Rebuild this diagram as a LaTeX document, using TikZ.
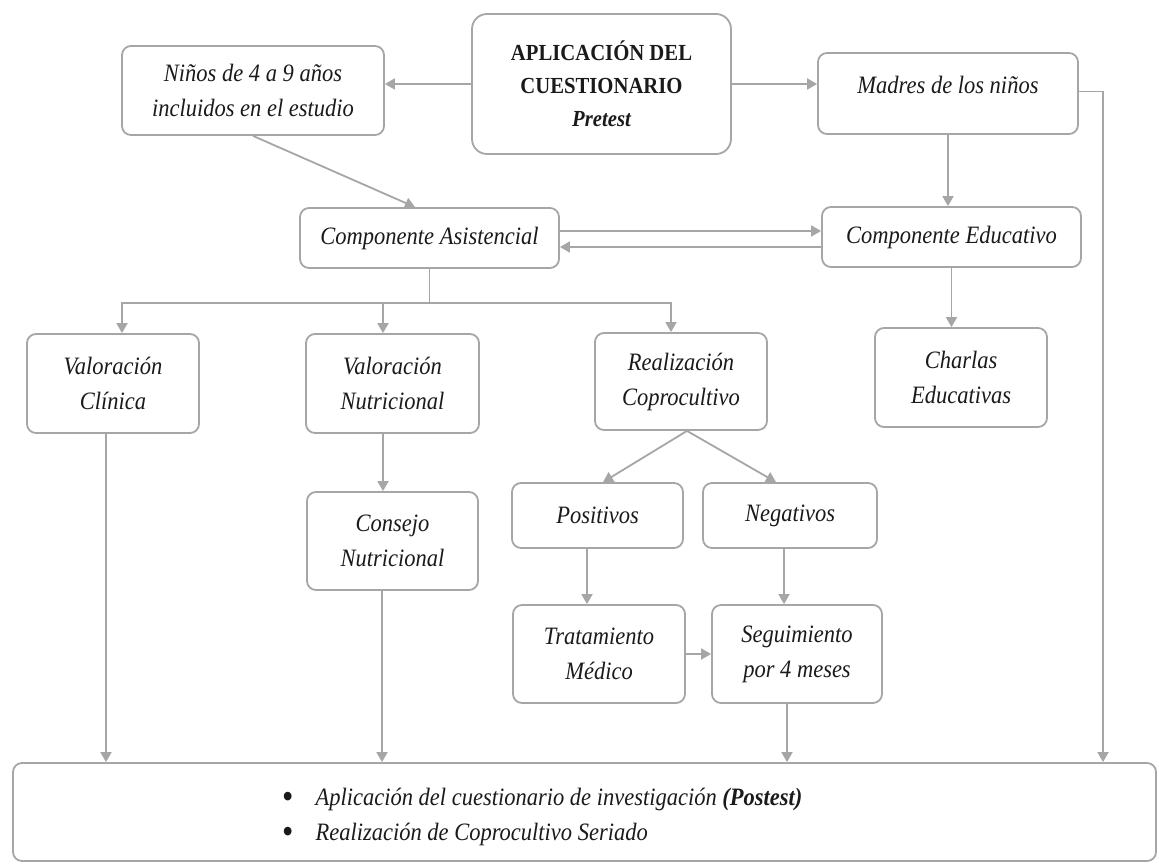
\documentclass[tikz,border=0pt]{standalone}
\usepackage{fontspec}
\setmainfont{Liberation Serif}[FakeStretch=0.9]
\usetikzlibrary{arrows.meta,calc}
\definecolor{lg}{HTML}{A6A6A6}
\definecolor{tx}{HTML}{1A1A1A}
\newcommand{\bigbul}{\smash{\raisebox{-3pt}{\upshape\fontsize{36}{30}\selectfont\textbullet}}}
\begin{document}
\begin{tikzpicture}[x=1pt,y=-1pt,
  box/.style={draw=lg, line width=1.8pt, rounded corners=9pt, align=center, inner sep=0pt, text=tx, font=\itshape\fontsize{25}{35}\selectfont},
  lbl/.style={align=center, inner sep=0pt, text=tx, font=\itshape\fontsize{25}{35}\selectfont},
  arr/.style={draw=lg, line width=1.8pt, -{Triangle[length=10pt,width=11pt]}},
  ln/.style={draw=lg, line width=1.8pt}]
\useasboundingbox (0,0) rectangle (1159,866);
% nodes
\node[box, rounded corners=15pt, minimum width=259pt, minimum height=140pt, font=\fontsize{23}{33}\selectfont\bfseries] (app) at (601.5,84) {APLICACIÓN DEL\\CUESTIONARIO\\\itshape Pretest};
\node[box, minimum width=262pt, minimum height=89pt] (ninos) at (253,90.5) {Niños de 4 a 9 años\\incluidos en el estudio};
\node[box, minimum width=260pt, minimum height=81pt] (madres) at (948,93.5) {};
\node[lbl] (madrest) at (948,85) {Madres de los niños};
\node[box, minimum width=259pt, minimum height=60pt] (ca) at (429.5,238) {Componente Asistencial};
\node[box, minimum width=259pt, minimum height=60pt] (ce) at (951.5,237) {Componente Educativo};
\node[box, minimum width=172pt, minimum height=99pt] (vc) at (113,383.5) {Valoración\\Clínica};
\node[box, minimum width=173pt, minimum height=99pt] (vn) at (392.5,383.5) {Valoración\\Nutricional};
\node[box, minimum width=172pt, minimum height=97pt] (rc) at (681,381.5) {Realización\\Coprocultivo};
\node[box, minimum width=172pt, minimum height=99pt] (ch) at (961,377.5) {Charlas\\Educativas};
\node[box, minimum width=171pt, minimum height=98pt] (cn) at (392.5,541) {Consejo\\Nutricional};
\node[box, minimum width=171pt, minimum height=65pt] (pos) at (597.5,515.5) {Positivos};
\node[box, minimum width=174pt, minimum height=65pt] (neg) at (790,515.5) {Negativos};
\node[box, minimum width=172pt, minimum height=98pt] (tm) at (599,654) {Tratamiento\\Médico};
\node[box, minimum width=170pt, minimum height=98pt] (seg) at (797,654) {Seguimiento\\por 4 meses};
\node[box, minimum width=1143pt, minimum height=98pt] (bot) at (584.5,812) {};
\node[lbl, anchor=west, align=left] (botlist) at (282,816) {\begin{tabular}{@{}l@{\hspace{22pt}}l@{}}\bigbul & Aplicación del cuestionario de investigación \textbf{(Postest)}\\ \bigbul & Realización de Coprocultivo Seriado\end{tabular}};
% helper coordinates
\coordinate (hb) at (0,303);
\coordinate (rx) at (1103,0);
% connectors
\draw[arr] (app.west) -- (app.west -| ninos.east);
\draw[arr] (app.east) -- (app.east -| madres.west);
\draw[arr] ([yshift=2pt]madres.east) -| (rx |- bot.north);
\draw[arr] (ninos.south) -- ([xshift=-14.5pt]ca.north);
\draw[arr] ([yshift=7pt]ca.east) -- ([yshift=7pt]ca.east -| ce.west);
\draw[arr] ([yshift=-9pt]ca.east -| ce.west) -- ([yshift=-9pt]ca.east);
\draw[arr] (madres.south) -- (madres.south |- ce.north);
\draw[ln] (ca.south) -- (ca.south |- hb);
\draw[arr] (ca.south |- hb) -| ([xshift=9pt]vc.north);
\draw[arr] (ca.south |- hb) -| ([xshift=-9.5pt]vn.north);
\draw[arr] (ca.south |- hb) -| ([xshift=-10pt]rc.north);
\draw[arr] (ce.south) -- (ce.south |- ch.north);
\draw[arr] ([xshift=-7pt]vc.south) -- ([xshift=-7pt]vc.south |- bot.north);
\draw[arr] ([xshift=-9.5pt]vn.south) -- ([xshift=-9.5pt]vn.south |- cn.north);
\draw[arr] ([xshift=-10.5pt]cn.south) -- ([xshift=-10.5pt]cn.south |- bot.north);
\draw[arr] ([xshift=6pt]rc.south) -- ([xshift=5.5pt]pos.north);
\draw[arr] ([xshift=6pt]rc.south) -- ([xshift=-14pt]neg.north);
\draw[arr] ([xshift=-10.5pt]pos.south) -- ([xshift=-10.5pt]pos.south |- tm.north);
\draw[arr] ([xshift=-6pt]neg.south) -- ([xshift=-6pt]neg.south |- seg.north);
\draw[arr] (tm.east) -- (tm.east -| seg.west);
\draw[arr] ([xshift=-10pt]seg.south) -- ([xshift=-10pt]seg.south |- bot.north);
\end{tikzpicture}
\end{document}
